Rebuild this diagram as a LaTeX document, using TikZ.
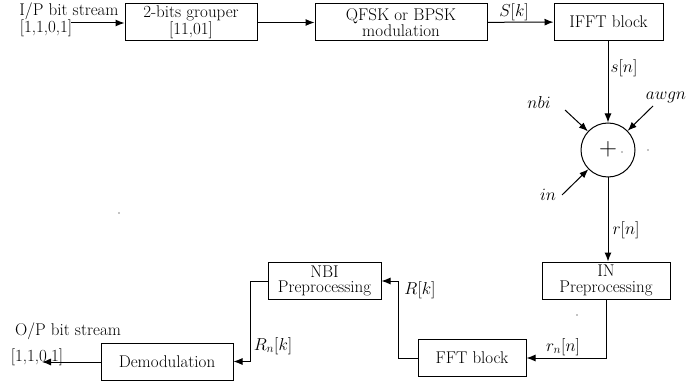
\documentclass[tikz,border=0pt]{standalone}
\usetikzlibrary{arrows.meta}
\begin{document}
\begin{tikzpicture}[x=1pt,y=-1pt,
  font=\fontsize{17}{15.5}\selectfont,
  blk/.style={draw,line width=1pt,minimum height=37pt,inner sep=1pt,align=center,anchor=center},
  wire/.style={line width=1pt},
  arr/.style={wire,-{Latex[length=9pt,width=7pt]}},
  lbl/.style={inner sep=0pt,anchor=center},
  speck/.style={fill=black,inner sep=0pt,minimum size=1.4pt,circle}]
\useasboundingbox (0,0) rectangle (691,385);

% transmitter chain
\node[lbl] (ipname) at (69,11) {I/P bit stream};
\node[lbl] (ipbits) at (46,28) {[1,1,0,1]};
\coordinate (ipstart) at (71,23);
\node[blk,minimum width=132pt] (grp) at (191,22.5) {2-bits grouper\\{}[11,01]};
\node[blk,minimum width=172pt] (mod) at (401,22.5) {QFSK or BPSK\\modulation};
\node[blk,minimum width=109pt] (ifft) at (608.5,22) {IFFT block};

\draw[arr] (ipstart) -- (grp.west |- ipstart);
\draw[arr] (grp) -- (mod);
\draw[arr] (mod) -- (ifft);
\node[lbl] (lSk) at (514,12) {$S[k]$};

% channel: adder with interference inputs
\node[draw,circle,line width=1pt,minimum size=54pt,inner sep=0pt] (sum) at (608,150) {};
\node[lbl] (plus) at (608,149) {\fontsize{32}{32}\selectfont $+$};
\draw[arr] (ifft.south -| sum) -- (sum.north);
\node[lbl] (lsn) at (624,68) {$s[n]$};

\node[lbl] (nbi) at (539,103) {$nbi$};
\coordinate (nbistart) at (565,110);
\draw[arr] (nbistart) -- (sum);

\node[lbl] (awgn) at (666,97) {$awgn$};
\coordinate (awgnstart) at (653,106);
\draw[arr] (awgnstart) -- (sum);

\node[lbl] (inn) at (548,195) {$in$};
\coordinate (instart) at (562,195);
\draw[arr] (instart) -- (sum);

% receiver chain
\node[blk,minimum width=128pt] (inpre) at (606,280.5) {IN\\Preprocessing};
\node[blk,minimum width=108pt] (fft) at (472,358) {FFT block};
\node[blk,minimum width=113pt] (nbipre) at (324.5,281) {NBI\\Preprocessing};
\node[blk,minimum width=132pt] (demod) at (167,361.5) {Demodulation};

\draw[arr] (sum.south) -- (inpre.north -| sum);
\node[lbl] (lrn) at (626,230) {$r[n]$};
\draw[arr] (inpre.south) |- (fft.east);
\node[lbl] (lrnn) at (563,347) {$r_n[n]$};
\draw[arr] (fft.west) -- ++(-19,0) |- (nbipre.east);
\node[lbl] (lRk) at (420,290) {$R[k]$};
\draw[arr] (nbipre.west) -- ++(-17,0) |- (demod.east);
\node[lbl] (lRnk) at (273,346) {$R_n[k]$};

\node[lbl] (opname) at (68,331) {O/P bit stream};
\node[lbl] (opbits) at (37,357) {[1,1,0,1]};
\coordinate (opend) at (42,362);
\draw[arr] (demod.west |- opend) -- (opend);

% small marks
\node[speck] (m1) at (119,213) {};
\node[speck] (m2) at (622,152) {};
\node[speck] (m3) at (648,150) {};
\node[speck] (m4) at (577,315) {};
\end{tikzpicture}
\end{document}
